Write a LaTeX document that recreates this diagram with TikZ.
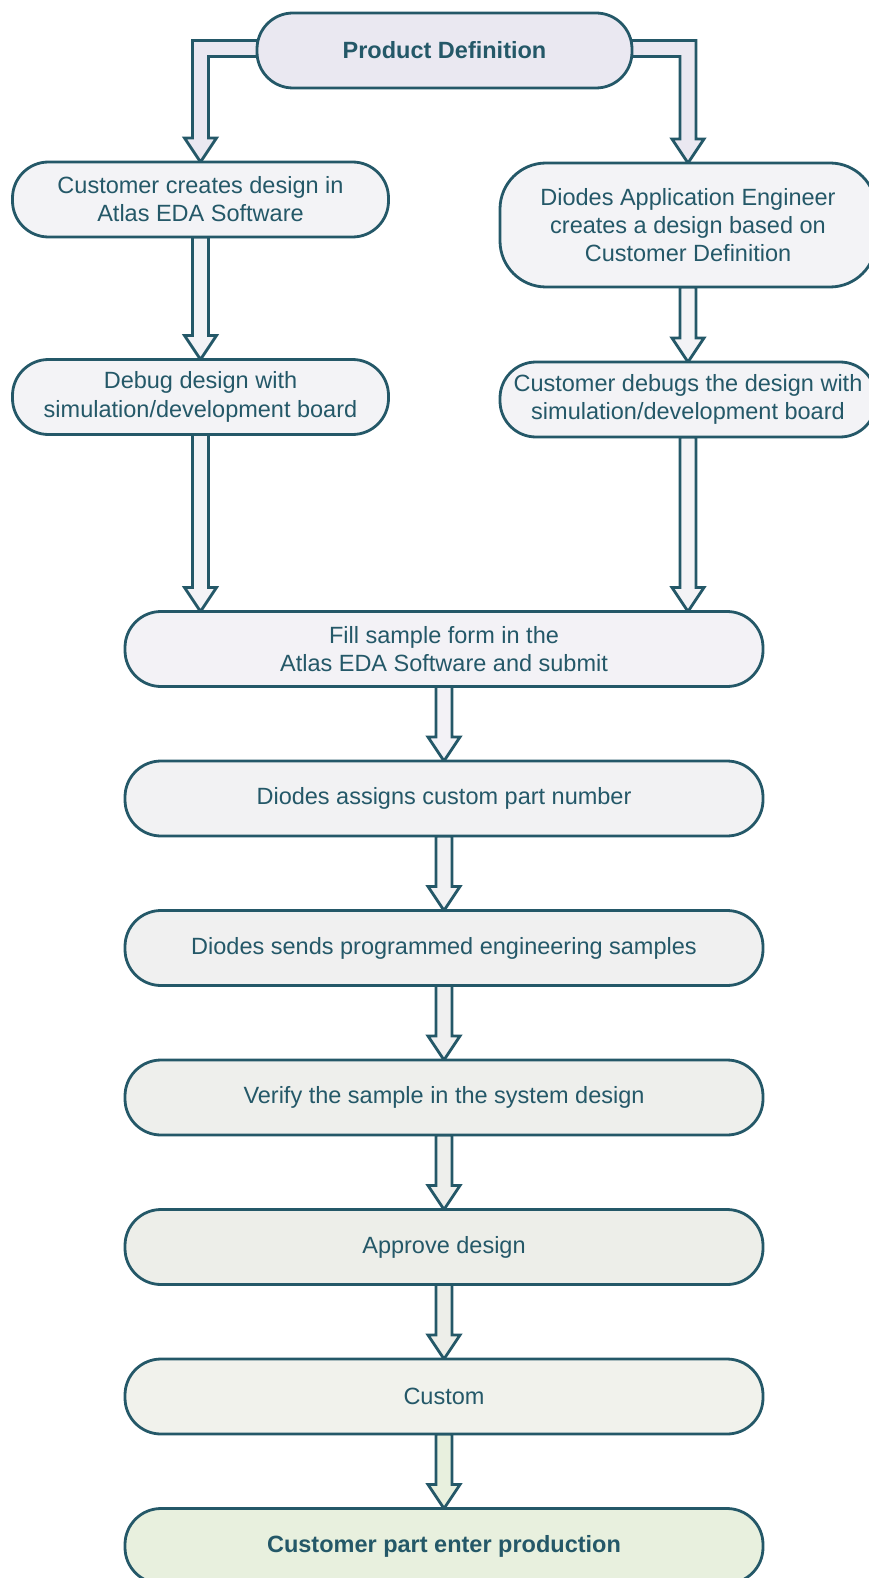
\documentclass[tikz,border=0pt]{standalone}
\usepackage{fontspec}
\setmainfont{Liberation Sans}
\usetikzlibrary{positioning, calc, backgrounds}
\definecolor{flowline}{RGB}{36,88,104}
\definecolor{startfill}{RGB}{234,232,241}
\definecolor{sidefill}{RGB}{243,243,246}
\definecolor{formfill}{RGB}{243,242,246}
\definecolor{assignfill}{RGB}{242,242,243}
\definecolor{sendfill}{RGB}{240,240,240}
\definecolor{verifyfill}{RGB}{238,239,236}
\definecolor{approvefill}{RGB}{237,238,233}
\definecolor{customfill}{RGB}{241,242,236}
\definecolor{endfill}{RGB}{232,240,222}
\tikzset{
  stepbox/.style={rectangle, rounded corners=36pt, line width=2.8pt,
    draw=flowline, outer sep=0pt, inner sep=4pt, align=center,
    text=flowline, font=\fontsize{23.5}{28.2}\selectfont,
    minimum height=75pt},
  boldtext/.style={font=\fontsize{23.5}{28.2}\selectfont\bfseries},
  sidebox/.style={stepbox, fill=sidefill, minimum width=376pt},
  mainbox/.style={stepbox, minimum width=638pt},
  blockarrow/.style={line width=2.8pt, draw=flowline, line join=miter},
}

\begin{document}
\begin{tikzpicture}[x=1pt,y=1pt]
\useasboundingbox (0,0) rectangle (869,-1578);

% ---- Start ----
\node[stepbox, boldtext, fill=startfill, minimum width=375pt] (pd) at (444.5,-50.5) {Product Definition};

% ---- Two branches ----
\node[sidebox] (cust) at (200.5,-199.5) {Customer creates design in\\Atlas EDA Software};
\node[sidebox, minimum height=124pt, rounded corners=46pt] (fae) at (688,-225) {Diodes Application Engineer\\creates a design based on\\Customer Definition};
\node[sidebox] (debug) at (200.5,-397) {Debug design with\\simulation/development board};
\node[sidebox] (cdebug) at (688,-399.5) {Customer debugs the design with\\simulation/development board};

% ---- Main column ----
\node[mainbox, fill=formfill] (form) at (444,-649) {Fill sample form in the\\Atlas EDA Software and submit};
\node[mainbox, fill=assignfill, below=74.5pt of form] (assign) {Diodes assigns custom part number};
\node[mainbox, fill=sendfill, below=74.5pt of assign] (sends) {Diodes sends programmed engineering samples};
\node[mainbox, fill=verifyfill, below=74.5pt of sends] (verify) {Verify the sample in the system design};
\node[mainbox, fill=approvefill, below=74.5pt of verify] (approve) {Approve design};
\node[mainbox, fill=customfill, below=74.5pt of approve] (custom) {Custom};
\node[mainbox, boldtext, fill=endfill, below=74.5pt of custom] (prod) {Customer part enter production};

% ---- Block arrows behind the boxes ----
\begin{scope}[on background layer]
  % split from the start box
  \draw[blockarrow, fill=startfill] let \p1=($(pd.west)+(0,2)$), \p2=(cust.north) in
    (\x1+20pt,\y1+8pt) -- (\x2-8pt,\y1+8pt) -- (\x2-8pt,\y2+24pt) -- (\x2-16pt,\y2+24pt)
    -- (\x2,\y2) -- (\x2+16pt,\y2+24pt) -- (\x2+8pt,\y2+24pt) -- (\x2+8pt,\y1-8pt)
    -- (\x1+20pt,\y1-8pt) -- cycle;
  \draw[blockarrow, fill=startfill] let \p1=($(pd.east)+(0,2)$), \p2=(fae.north) in
    (\x1-20pt,\y1+8pt) -- (\x2+8pt,\y1+8pt) -- (\x2+8pt,\y2+24pt) -- (\x2+16pt,\y2+24pt)
    -- (\x2,\y2) -- (\x2-16pt,\y2+24pt) -- (\x2-8pt,\y2+24pt) -- (\x2-8pt,\y1-8pt)
    -- (\x1-20pt,\y1-8pt) -- cycle;
  % straight down
  \foreach \a/\b/\c in {cust/debug/sidefill, fae/cdebug/sidefill,
      debug/form/sidefill, cdebug/form/sidefill, form/assign/formfill,
      assign/sends/assignfill, sends/verify/sendfill, verify/approve/verifyfill,
      approve/custom/approvefill, custom/prod/endfill} {
    \draw[blockarrow, fill=\c] let \p1=(\a.south), \p2=(\b.north) in
      (\x1-8pt,\y1) -- (\x1-8pt,\y2+24pt) -- (\x1-16pt,\y2+24pt) -- (\x1,\y2)
      -- (\x1+16pt,\y2+24pt) -- (\x1+8pt,\y2+24pt) -- (\x1+8pt,\y1) -- cycle;
  }
\end{scope}

\end{tikzpicture}
\end{document}
